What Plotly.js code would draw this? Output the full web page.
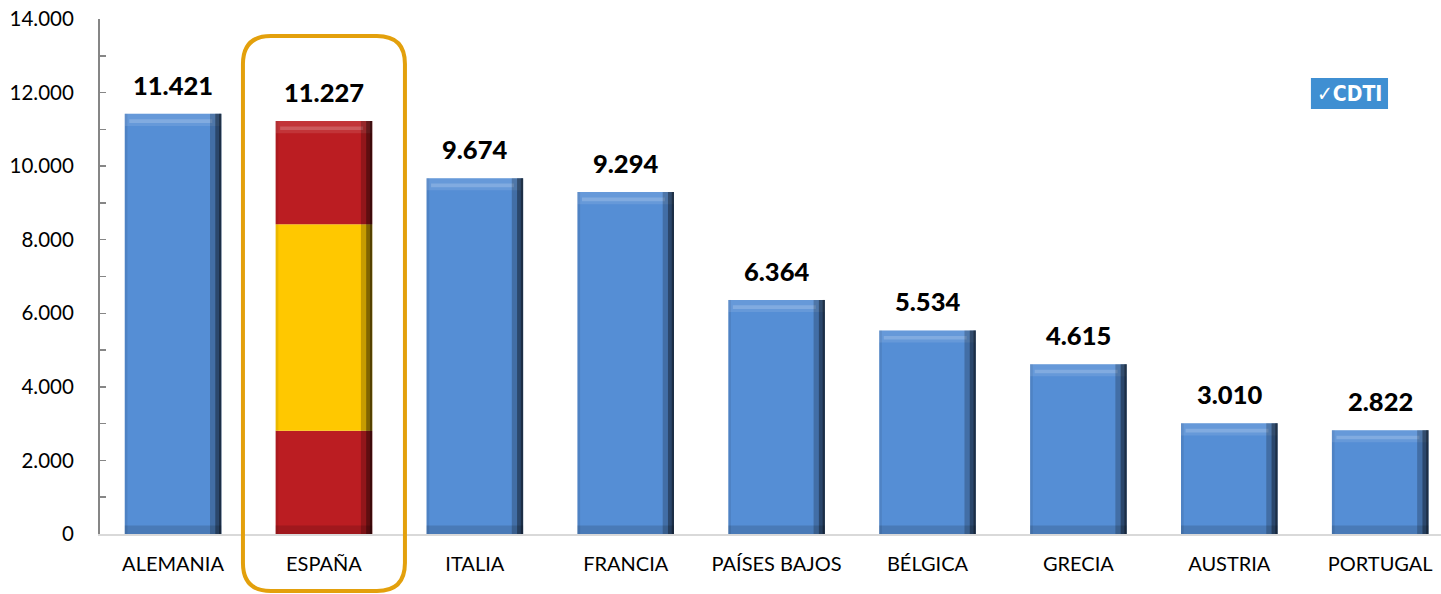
<!DOCTYPE html>
<html><head><meta charset="utf-8">
<script src="https://cdn.plot.ly/plotly-3.0.1.min.js"></script>
<style>html,body{margin:0;padding:0;background:#fff}#chart{width:1441px;height:594px}</style>
</head><body><div id="chart"></div>
<script>
// ---- data ----
const categories = ['ALEMANIA','ESPAÑA','ITALIA','FRANCIA','PAÍSES BAJOS','BÉLGICA','GRECIA','AUSTRIA','PORTUGAL'];
const totals = [11421, 11227, 9674, 9294, 6364, 5534, 4615, 3010, 2822];
const spainIndex = 1;
const spainRedBottom = 2807;
const spainYellow = 5613;
const spainRedTop = 2807;
const yTickVals = [0, 2000, 4000, 6000, 8000, 10000, 12000, 14000];

// ---- styling ----
const FONT = 'Lato, "Open Sans", sans-serif';
const BAR_W = 0.64, HALF = BAR_W / 2;
const BEVEL = 330; // bevel thickness in y units (~12px)

const blueY = totals.map((v, i) => i === spainIndex ? null : v);
const spainX = [categories[spainIndex]];

function bar(x, y, base, offset, width, color) {
  return {type: 'bar', x: x, y: y, base: base, offset: offset, width: width,
    marker: {color: color, line: {width: 0}}, hoverinfo: 'skip', showlegend: false};
}

const traces = [
  bar(categories, blueY, 0, -HALF, BAR_W, '#558ED5'),
  bar(spainX, [spainRedBottom], [0], -HALF, BAR_W, '#BB1D22'),
  bar(spainX, [spainYellow], [spainRedBottom], -HALF, BAR_W, '#FFC800'),
  bar(spainX, [spainRedTop], [spainRedBottom + spainYellow], -HALF, BAR_W, '#BB1D22'),
  // bevel effects
  bar(categories, totals.map(() => BEVEL * 0.7), 0, -HALF, BAR_W, 'rgba(0,0,0,0.14)'),
  bar(categories, totals, 0, -HALF, 0.018, 'rgba(0,0,0,0.08)'),
  bar(categories, totals.map(() => BEVEL), totals.map(v => v - BEVEL), -HALF, BAR_W, 'rgba(255,255,255,0.10)'),
  bar(categories, totals.map(() => BEVEL * 0.3), totals.map(v => v - BEVEL * 0.75), -HALF + 0.03, BAR_W - 0.09, 'rgba(255,255,255,0.18)'),
  bar(categories, totals, 0, HALF - 0.075, 0.075, 'rgba(0,0,0,0.22)'),
  bar(categories, totals, 0, HALF - 0.04, 0.04, 'rgba(0,0,0,0.35)'),
  bar(categories, totals, 0, HALF - 0.015, 0.015, 'rgba(0,0,0,0.35)')
];

const annotations = categories.map((c, i) => ({
  x: c, y: totals[i], xref: 'x', yref: 'y', yanchor: 'bottom', yshift: 12,
  text: totals[i].toLocaleString('de-DE'), showarrow: false,
  font: {family: FONT, size: 25.5, color: '#000', weight: 900}
}));

// logo
annotations.push({xref: 'paper', yref: 'paper', x: 0.9318, y: 0.855, xanchor: 'center', yanchor: 'middle',
  text: '<b>✓CDTI</b>', showarrow: false,
  font: {family: '"DejaVu Sans Condensed", "Liberation Sans Narrow", sans-serif', size: 21, color: '#fff'}});

// rounded highlight box around ESPAÑA (paper coords)
const bx0 = 0.1066, bx1 = 0.2274, byT = 0.967, byB = -0.1107, rx = 0.0209, ry = 0.0544;
const boxPath = `M ${bx0+rx},${byT} L ${bx1-rx},${byT} Q ${bx1},${byT} ${bx1},${byT-ry} L ${bx1},${byB+ry} Q ${bx1},${byB} ${bx1-rx},${byB} L ${bx0+rx},${byB} Q ${bx0},${byB} ${bx0},${byB+ry} L ${bx0},${byT-ry} Q ${bx0},${byT} ${bx0+rx},${byT} Z`;

const layout = {
  width: 1441, height: 594,
  margin: {l: 100, r: 0, t: 19, b: 60, pad: 0},
  paper_bgcolor: '#fff', plot_bgcolor: '#fff',
  separators: ',.',
  barmode: 'overlay',
  showlegend: false,
  font: {family: FONT, color: '#000'},
  xaxis: {
    type: 'category', range: [-0.484, 8.403], showgrid: false, zeroline: false,
    showline: true, linecolor: '#D9D9D9', linewidth: 2, ticks: '',
    tickfont: {family: FONT, size: 20, color: '#000'}, ticklabelstandoff: 11, fixedrange: true
  },
  yaxis: {
    range: [0, 14000], tickvals: yTickVals, tickformat: ',', showgrid: false, zeroline: false,
    showline: true, linecolor: '#868686', linewidth: 2,
    ticks: 'inside', ticklen: 6, tickcolor: '#868686', tickwidth: 1.5,
    minor: {dtick: 1000, ticks: 'inside', ticklen: 6, tickcolor: '#868686', tickwidth: 1.5, showgrid: false},
    tickfont: {family: FONT, size: 20.5, color: '#000'}, ticklabelstandoff: 20, fixedrange: true
  },
  shapes: [
    {type: 'path', xref: 'paper', yref: 'paper', path: boxPath, line: {color: '#E3A00C', width: 4}, fillcolor: 'rgba(0,0,0,0)', layer: 'above'},
    {type: 'rect', xref: 'paper', yref: 'paper', x0: 0.903, x1: 0.9605, y0: 0.8252, y1: 0.8854, line: {width: 0}, fillcolor: '#3F8FD2', layer: 'below'}
  ],
  annotations: annotations
};

Plotly.newPlot('chart', traces, layout, {staticPlot: true, displayModeBar: false});
</script></body></html>
